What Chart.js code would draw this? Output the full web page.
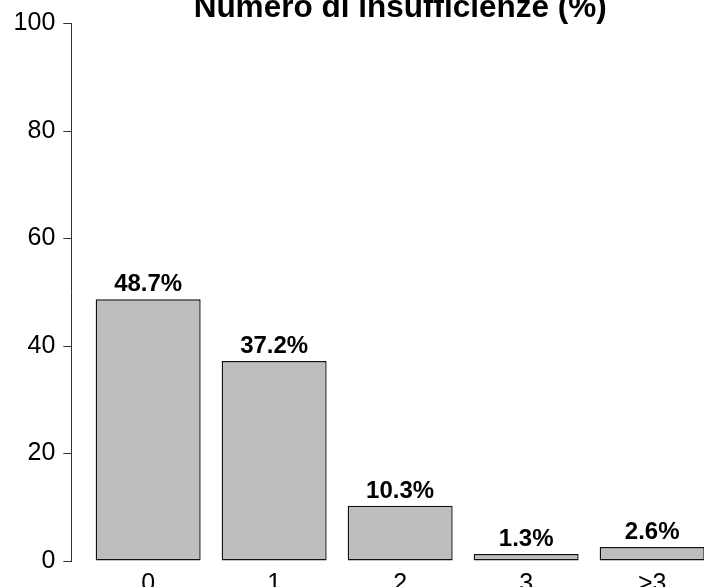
<!DOCTYPE html>
<html>
<head>
<meta charset="utf-8">
<title>Numero di insufficienze (%)</title>
<script src="https://cdn.jsdelivr.net/npm/chart.js@4/dist/chart.umd.min.js"></script>
<style>
    html, body { margin: 0; padding: 0; background: #fff; overflow: hidden; width: 704px; height: 587px; }
    #wrap { position: absolute; left: 0; top: -30px; width: 740px; height: 631px; }
</style>
</head>
<body>
<div id="wrap"><canvas id="chart-insuff" width="740" height="631"></canvas></div>
<script>
'use strict';

var categories = ['0', '1', '2', '3', '>3'];
var percentages = [48.7, 37.2, 10.3, 1.3, 2.6];
var y_min = 0;
var y_max = 100;
var y_step = 20;

// R barplot style x range (space 0.2 + 4% expansion), in category units
var x_lo = -0.61;
var x_hi = 4.61;

Chart.defaults.font.family = '"Liberation Sans", Arial, sans-serif';
Chart.defaults.color = '#000';

var barData = categories.map(function(c, i) {
    return { x: i, y: percentages[i] };
});

// percent text on top of each bar
var barLabels = {
    id: 'barLabels',
    afterDatasetsDraw: function(chart) {
        var ctx = chart.ctx;
        var meta = chart.getDatasetMeta(0);
        ctx.save();
        ctx.font = 'bold 24px "Liberation Sans", Arial, sans-serif';
        ctx.fillStyle = '#000';
        ctx.textAlign = 'center';
        ctx.textBaseline = 'alphabetic';
        meta.data.forEach(function(bar, i) {
            ctx.fillText(percentages[i].toFixed(1) + '%', bar.x, bar.y - 8);
        });
        ctx.restore();
    }
};

var ctx_insuff = document.getElementById('chart-insuff').getContext('2d');

var chart_insuff = new Chart(ctx_insuff, {
    type: 'bar',
    data: {
        datasets: [{
            label: 'Numero di insufficienze (%)',
            data: barData,
            backgroundColor: '#bebebe',
            borderColor: '#111',
            borderWidth: 1.4,
            borderSkipped: false,
            barPercentage: 1 / 1.2,
            categoryPercentage: 1
        }]
    },
    options: {
        responsive: false,
        animation: false,
        devicePixelRatio: 1,
        layout: {
            padding: { left: 0, right: 11, top: 0, bottom: 0 }
        },
        plugins: {
            legend: { display: false },
            tooltip: { enabled: false },
            title: {
                display: true,
                fullSize: false,
                text: 'Numero di insufficienze (%)',
                color: '#000',
                font: { size: 31.5, weight: 'bold', lineHeight: 1 },
                padding: { top: 22.1, bottom: 0 }
            }
        },
        scales: {
            x: {
                type: 'linear',
                offset: false,
                min: x_lo,
                max: x_hi,
                grid: { display: false },
                border: { display: false },
                afterBuildTicks: function(scale) {
                    scale.ticks = categories.map(function(c, i) { return { value: i }; });
                },
                ticks: {
                    font: { size: 25 },
                    padding: 0,
                    color: '#000',
                    callback: function(value) { return categories[value]; }
                },
                afterFit: function(scale) { scale.height = 40; }
            },
            y: {
                position: 'left',
                min: y_min,
                max: y_max,
                grid: {
                    drawOnChartArea: false,
                    drawTicks: true,
                    tickLength: 8,
                    color: '#333'
                },
                border: { display: true, color: '#333', width: 1 },
                ticks: { stepSize: y_step, font: { size: 25 }, padding: 8, color: '#000' },
                afterFit: function(scale) { scale.width = 71.3; }
            }
        }
    },
    plugins: [barLabels]
});
</script>
</body>
</html>
